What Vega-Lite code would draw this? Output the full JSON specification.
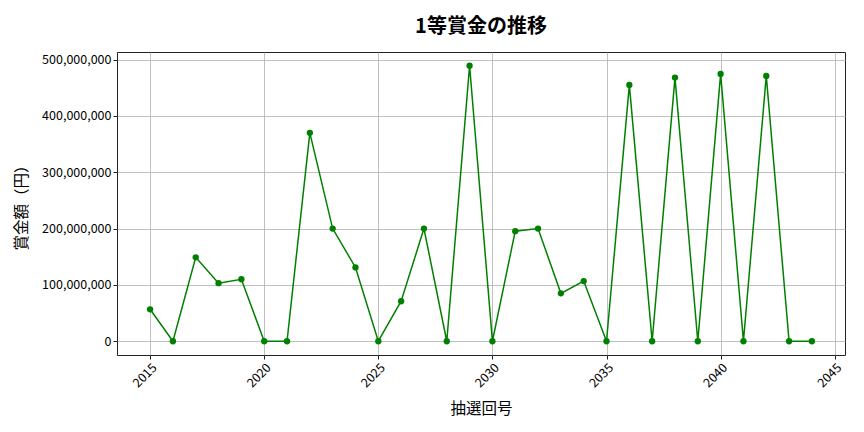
{
  "$schema": "https://vega.github.io/schema/vega-lite/v6.json",
  "autosize": "none",
  "width": 728,
  "height": 303,
  "padding": {"left": 117, "top": 52, "right": 19, "bottom": 77},
  "background": "white",
  "config": {
    "font": "Noto Sans CJK JP",
    "view": {"stroke": "#222222", "strokeWidth": 1},
    "axis": {
      "domain": false,
      "grid": true,
      "gridColor": "#b0b0b0",
      "gridWidth": 0.8,
      "tickColor": "#222222",
      "tickSize": 4,
      "labelFont": "Noto Sans CJK JP",
      "labelFontSize": 12.5,
      "labelColor": "#000000",
      "titleFont": "Noto Sans CJK JP",
      "titleFontSize": 15.5,
      "titleFontWeight": "normal",
      "titleColor": "#000000"
    }
  },
  "title": {
    "text": "1等賞金の推移",
    "fontSize": 20,
    "fontWeight": "bold",
    "font": "Noto Sans CJK JP",
    "anchor": "middle",
    "offset": 15,
    "color": "#000000"
  },
  "data": {
    "values": [
      {"round": 2015, "prize": 56700000},
      {"round": 2016, "prize": 0},
      {"round": 2017, "prize": 149000000},
      {"round": 2018, "prize": 103000000},
      {"round": 2019, "prize": 110000000},
      {"round": 2020, "prize": 0},
      {"round": 2021, "prize": 0},
      {"round": 2022, "prize": 370000000},
      {"round": 2023, "prize": 200000000},
      {"round": 2024, "prize": 131000000},
      {"round": 2025, "prize": 0},
      {"round": 2026, "prize": 71000000},
      {"round": 2027, "prize": 200000000},
      {"round": 2028, "prize": 0},
      {"round": 2029, "prize": 489000000},
      {"round": 2030, "prize": 0},
      {"round": 2031, "prize": 195400000},
      {"round": 2032, "prize": 200000000},
      {"round": 2033, "prize": 85000000},
      {"round": 2034, "prize": 106800000},
      {"round": 2035, "prize": 0},
      {"round": 2036, "prize": 455000000},
      {"round": 2037, "prize": 0},
      {"round": 2038, "prize": 468000000},
      {"round": 2039, "prize": 0},
      {"round": 2040, "prize": 474600000},
      {"round": 2041, "prize": 0},
      {"round": 2042, "prize": 471000000},
      {"round": 2043, "prize": 0},
      {"round": 2044, "prize": 0}
    ]
  },
  "mark": {
    "type": "line",
    "color": "#008000",
    "strokeWidth": 1.5,
    "point": {"filled": true, "size": 40, "color": "#008000", "opacity": 1}
  },
  "encoding": {
    "x": {
      "field": "round",
      "type": "quantitative",
      "scale": {"domain": [2013.55, 2045.45], "nice": false, "zero": false},
      "axis": {
        "title": "抽選回号",
        "values": [2015, 2020, 2025, 2030, 2035, 2040, 2045],
        "format": "d",
        "labelAngle": -45,
        "labelAlign": "right",
        "labelBaseline": "top",
        "titlePadding": 12
      }
    },
    "y": {
      "field": "prize",
      "type": "quantitative",
      "scale": {"domain": [-24450000, 513450000], "nice": false, "zero": false},
      "axis": {
        "title": "賞金額（円）",
        "values": [0, 100000000, 200000000, 300000000, 400000000, 500000000],
        "format": ",d",
        "titlePadding": 12
      }
    }
  }
}
